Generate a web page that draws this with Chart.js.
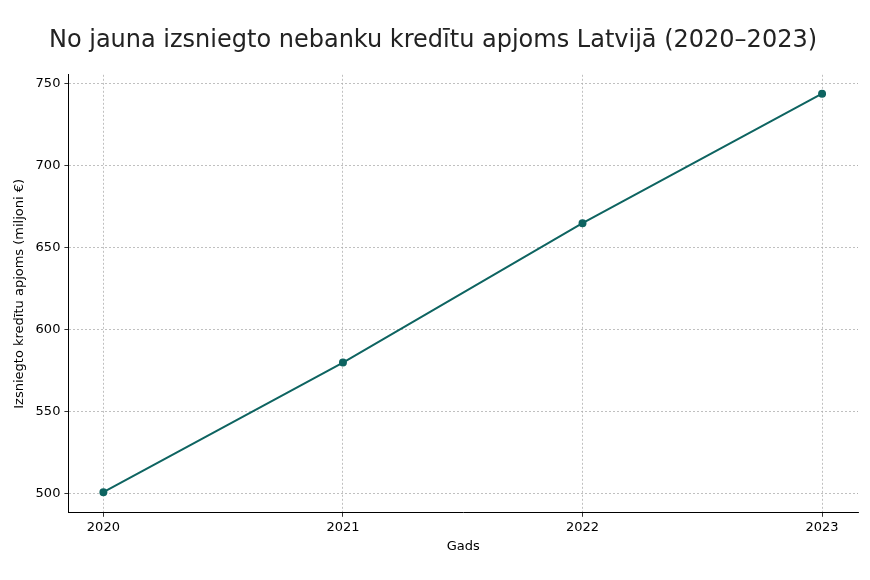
<!DOCTYPE html>
<html><head><meta charset="utf-8">
<script src="https://cdn.jsdelivr.net/npm/chart.js@4"></script>
<style>body{margin:0;background:#fff}#w{width:870px;height:580px;position:relative}</style>
</head><body><div id="w"><canvas id="c"></canvas></div>
<script>
const years=[2020,2021,2022,2023];
const values=[501,580,665,744];
const title='No jauna izsniegto nebanku kredītu apjoms Latvijā (2020–2023)';
const xLabel='Gads';
const yLabel='Izsniegto kredītu apjoms (miljoni €)';
const yTicks=[500,550,600,650,700,750];
Chart.defaults.font.family='DejaVu Sans';
Chart.defaults.color='#000';
const grid={color:'#b0b0b0',lineWidth:0.8,drawTicks:true,tickColor:'#000',tickLength:4};
const border={color:'#000',width:1,dash:[2,2]};
new Chart(document.getElementById('c'),{
type:'line',
data:{datasets:[{data:years.map((y,i)=>({x:y,y:values[i]})),borderColor:'#0e6461',backgroundColor:'#0e6461',borderWidth:2,pointRadius:3,pointHoverRadius:3}]},
options:{responsive:true,maintainAspectRatio:false,animation:false,
layout:{padding:{left:8,right:12,top:10,bottom:22}},
plugins:{legend:{display:false},tooltip:{enabled:false},
title:{display:true,text:title,font:{size:24,weight:'normal'},color:'#222',padding:{top:16,bottom:20},align:'center'}},
scales:{
x:{type:'linear',min:2019.854,max:2023.15,afterBuildTicks:a=>{a.ticks=years.map(v=>({value:v}))},
ticks:{font:{size:13},callback:v=>String(v),maxRotation:0,padding:3},
grid:grid,border:border,
title:{display:true,text:xLabel,font:{size:13},padding:{top:0}}},
y:{min:488.4,max:755.5,afterBuildTicks:a=>{a.ticks=yTicks.map(v=>({value:v}))},
ticks:{font:{size:13},padding:4},
grid:grid,border:border,
title:{display:true,text:yLabel,font:{size:13},padding:{bottom:4}}}
}}});
</script></body></html>
